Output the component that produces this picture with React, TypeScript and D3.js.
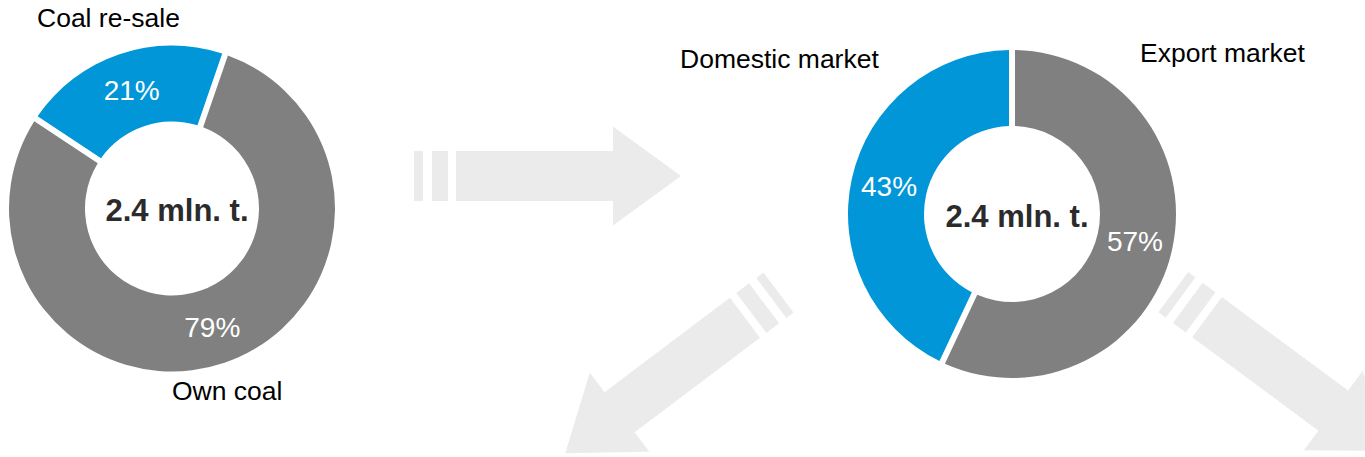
import React from 'react';
import * as d3 from 'd3';

// Chart data
const sourceLabels = ['Own coal', 'Coal re-sale'];
const sourceShares = [79, 21];
const marketLabels = ['Export market', 'Domestic market'];
const marketShares = [57, 43];
const totalText = '2.4 mln. t.';

const GREY = '#808080';
const BLUE = '#0096D8';
const ARROW = '#EBEBEB';
const FONT = '"Liberation Sans", Arial, sans-serif';

const W = 1365;
const H = 457;

interface Slice {
  label: string;
  value: number;
  color: string;
}

// arrow drawn along +x starting at the tail, then rotated into place
const arrowParts = () => {
  const half = 25;
  const headHalf = 49.5;
  const rect = (x0: number, x1: number) => `M${x0},${-half}H${x1}V${half}H${x0}Z`;
  return [
    rect(0, 9),
    rect(18, 34),
    `M42,${-half}H199V${-headHalf}L267,0L199,${headHalf}V${half}H42Z`,
  ];
};

const Arrow: React.FC<{ x: number; y: number; angle: number }> = ({ x, y, angle }) => (
  <g transform={`translate(${x},${y}) rotate(${angle})`}>
    {arrowParts().map((d, i) => (
      <path key={i} d={d} fill={ARROW} />
    ))}
  </g>
);

const Donut: React.FC<{
  cx: number;
  cy: number;
  outer: number;
  inner: number;
  start: number;
  slices: Slice[];
}> = ({ cx, cy, outer, inner, start, slices }) => {
  const pie = d3
    .pie<Slice>()
    .value((d) => d.value)
    .sort(null)
    .startAngle(start)
    .endAngle(start + Math.PI * 2);

  const arc = d3
    .arc<d3.PieArcDatum<Slice>>()
    .innerRadius(inner)
    .outerRadius(outer)
    .padRadius(100)
    .padAngle(0.06);

  const arcs = pie(slices);

  return (
    <g transform={`translate(${cx},${cy})`}>
      {arcs.map((a) => (
        <path key={a.data.label} d={arc(a) || ''} fill={a.data.color} />
      ))}
      {arcs.map((a) => {
        const [lx, ly] = arc.centroid(a);
        return (
          <text
            key={a.data.label + '-pct'}
            x={lx}
            y={ly}
            dy="0.35em"
            textAnchor="middle"
            fill="#fff"
            style={{ fontFamily: FONT, fontSize: 28 }}
          >
            {a.data.value}%
          </text>
        );
      })}
      <text
        x={5}
        y={2}
        dy="0.35em"
        textAnchor="middle"
        fill="#2b2b2b"
        style={{ fontFamily: FONT, fontSize: 31, fontWeight: 700 }}
      >
        {totalText}
      </text>
    </g>
  );
};

export default function App() {
  const sourceSlices: Slice[] = sourceLabels.map((label, i) => ({
    label,
    value: sourceShares[i],
    color: i === 0 ? GREY : BLUE,
  }));
  const marketSlices: Slice[] = marketLabels.map((label, i) => ({
    label,
    value: marketShares[i],
    color: i === 0 ? GREY : BLUE,
  }));

  const labelStyle = { fontFamily: FONT, fontSize: 26.5 };

  return (
    <svg
      width={W}
      height={H}
      style={{ position: 'absolute', left: 0, top: 0, background: '#fff' }}
    >
      <Arrow x={414} y={176} angle={0} />
      <Arrow x={778.5} y={292.5} angle={143} />
      <Arrow x={1173.3} y={292.2} angle={36.5} />

      <Donut
        cx={172}
        cy={208.5}
        outer={163}
        inner={87}
        start={(19 * Math.PI) / 180}
        slices={sourceSlices}
      />
      <Donut cx={1012} cy={214} outer={164} inner={88} start={0} slices={marketSlices} />

      <text x={37} y={27} style={labelStyle}>
        {sourceLabels[1]}
      </text>
      <text x={172} y={400} style={labelStyle}>
        {sourceLabels[0]}
      </text>
      <text x={680} y={68} style={labelStyle}>
        {marketLabels[1]}
      </text>
      <text x={1140} y={62} style={labelStyle}>
        {marketLabels[0]}
      </text>
    </svg>
  );
}
